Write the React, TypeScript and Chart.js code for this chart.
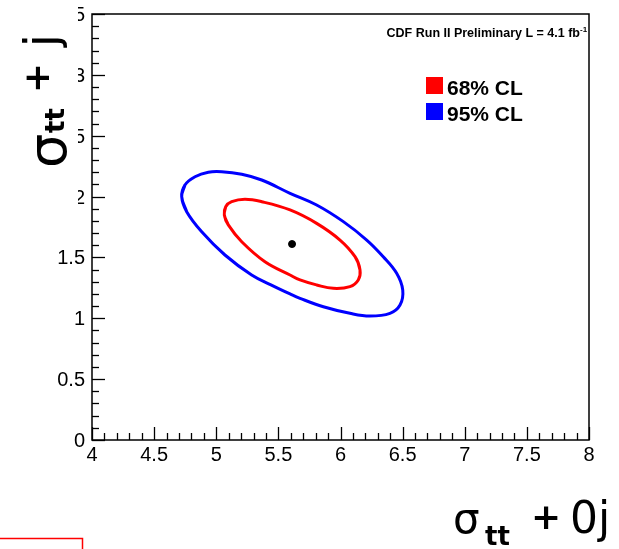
import React, { useEffect, useRef } from "react";
import { Chart, registerables } from "chart.js";

Chart.register(...registerables);

// ---- data ----
const xTickValues = [4, 4.5, 5, 5.5, 6, 6.5, 7, 7.5, 8];
const xTickLabels = ["4", "4.5", "5", "5.5", "6", "6.5", "7", "7.5", "8"];
const yTickValues = [0, 0.5, 1, 1.5, 2, 2.5, 3, 3.5];
const yTickLabels = ["0", "0.5", "1", "1.5", "2", "2.5", "3", "3.5"];

// 95% CL contour (closed)
const cl95X = [4.722, 4.762, 4.883, 5.070, 5.285, 5.440, 5.594, 5.674, 5.862, 6.076, 6.237, 6.398, 6.479, 6.501, 6.452, 6.344, 6.211, 6.023, 5.808, 5.594, 5.366, 5.205, 5.044, 4.936, 4.829, 4.748];
const cl95Y = [1.999, 1.876, 1.711, 1.520, 1.356, 1.275, 1.200, 1.164, 1.095, 1.041, 1.019, 1.041, 1.109, 1.232, 1.370, 1.506, 1.643, 1.794, 1.931, 2.027, 2.136, 2.183, 2.204, 2.200, 2.163, 2.095];

// 68% CL contour (closed)
const cl68X = [5.065, 5.097, 5.205, 5.392, 5.594, 5.674, 5.808, 5.942, 6.076, 6.143, 6.157, 6.117, 5.996, 5.808, 5.594, 5.366, 5.231, 5.124, 5.076];
const cl68Y = [1.849, 1.767, 1.629, 1.465, 1.356, 1.315, 1.274, 1.246, 1.260, 1.315, 1.397, 1.506, 1.643, 1.780, 1.890, 1.958, 1.978, 1.958, 1.917];

const bestFitX = [5.61];
const bestFitY = [1.61];

const legendLabels = ["68% CL", "95% CL"];
const legendColors = ["#ff0000", "#0000ff"];
const headerText = "CDF Run II Preliminary L = 4.1 fb";
const headerSup = "-1";

const xRange = [4, 8];
const yRange = [0, 3.5];

// closed curve: wrap around so the joint is smooth too
function closedPoints(xs: number[], ys: number[]) {
  const n = xs.length;
  const pts = xs.map((x, i) => ({ x, y: ys[i] }));
  return [pts[n - 1], ...pts, pts[0], pts[1]];
}

const drawPlugin = {
  id: "rootStyle",
  afterDraw(chart: any) {
    const ctx: CanvasRenderingContext2D = chart.ctx;
    const a = chart.chartArea;
    const xs = chart.scales.x;
    const ys = chart.scales.y;
    ctx.save();
    // frame
    ctx.strokeStyle = "#000";
    ctx.lineWidth = 1.5;
    ctx.strokeRect(a.left, a.top, a.right - a.left, a.bottom - a.top);
    // x ticks
    ctx.lineWidth = 1.3;
    const nx = Math.round((xRange[1] - xRange[0]) / 0.1);
    for (let i = 0; i <= nx; i++) {
      const v = xRange[0] + i * 0.1;
      const px = Math.round(xs.getPixelForValue(v)) + 0.5;
      const len = i % 5 === 0 ? 13 : 7;
      ctx.beginPath();
      ctx.moveTo(px, a.bottom);
      ctx.lineTo(px, a.bottom - len);
      ctx.stroke();
    }
    const ny = Math.round((yRange[1] - yRange[0]) / 0.1);
    for (let i = 0; i <= ny; i++) {
      const v = yRange[0] + i * 0.1;
      const py = Math.round(ys.getPixelForValue(v)) + 0.5;
      const len = i % 5 === 0 ? 13 : 7;
      ctx.beginPath();
      ctx.moveTo(a.left, py);
      ctx.lineTo(a.left + len, py);
      ctx.stroke();
    }
    // tick labels
    ctx.fillStyle = "#000";
    ctx.font = "20px 'Liberation Sans', Arial, sans-serif";
    ctx.textAlign = "center";
    ctx.textBaseline = "alphabetic";
    xTickValues.forEach((v, i) => {
      ctx.fillText(xTickLabels[i], xs.getPixelForValue(v), a.bottom + 21);
    });
    ctx.textAlign = "right";
    yTickValues.forEach((v, i) => {
      ctx.fillText(yTickLabels[i], a.left - 7, ys.getPixelForValue(v) + 7);
    });
    // mask (title pad covers upper labels)
    ctx.fillStyle = "#fff";
    ctx.fillRect(0, 0, 78, 210);

    // y title (rotated)
    ctx.fillStyle = "#000";
    ctx.save();
    ctx.translate(0, 168);
    ctx.rotate(-Math.PI / 2);
    ctx.textAlign = "left";
    ctx.font = "54px 'DejaVu Sans', sans-serif";
    ctx.fillText("σ", 0, 66);
    ctx.font = "bold 26px 'DejaVu Sans', sans-serif";
    ctx.fillText("tt", 35, 64);
    ctx.font = "bold 36px 'DejaVu Sans', sans-serif";
    ctx.fillText("+", 75, 49);
    ctx.font = "46px 'DejaVu Sans', sans-serif";
    ctx.fillText("j", 121, 57);
    ctx.restore();

    // x title
    ctx.textAlign = "left";
    ctx.font = "42px 'DejaVu Sans', sans-serif";
    ctx.fillText("σ", 453, 533);
    ctx.font = "bold 26px 'DejaVu Sans', sans-serif";
    ctx.fillText("tt", 485, 545);
    ctx.font = "bold 36px 'DejaVu Sans', sans-serif";
    ctx.fillText("+", 531, 529);
    ctx.font = "44px 'DejaVu Sans', sans-serif";
    ctx.fillText("0j", 570, 533);

    // header
    ctx.font = "bold 12.5px 'Liberation Sans', Arial, sans-serif";
    ctx.textAlign = "right";
    ctx.fillText(headerText, 580, 37);
    ctx.font = "bold 8px 'Liberation Sans', Arial, sans-serif";
    ctx.textAlign = "left";
    ctx.fillText(headerSup, 580, 32);

    // legend
    legendLabels.forEach((lab, i) => {
      const top = 77 + i * 26;
      ctx.fillStyle = legendColors[i];
      ctx.fillRect(426, top, 17, 17);
      ctx.fillStyle = "#000";
      ctx.font = "bold 21px 'Liberation Sans', Arial, sans-serif";
      ctx.fillText(lab, 447, top + 18);
    });

    // red box at bottom-left
    ctx.strokeStyle = "#ff0000";
    ctx.lineWidth = 1.5;
    ctx.beginPath();
    ctx.moveTo(0, 538.5);
    ctx.lineTo(82.5, 538.5);
    ctx.lineTo(82.5, 549);
    ctx.stroke();
    ctx.restore();
  },
};

export default function App() {
  const ref = useRef<HTMLCanvasElement | null>(null);
  useEffect(() => {
    if (!ref.current) return;
    const chart = new Chart(ref.current, {
      type: "scatter",
      data: {
        datasets: [
          {
            label: legendLabels[1],
            data: closedPoints(cl95X, cl95Y),
            showLine: true,
            borderColor: legendColors[1],
            borderWidth: 3,
            pointRadius: 0,
            tension: 0.4,
            fill: false,
          },
          {
            label: legendLabels[0],
            data: closedPoints(cl68X, cl68Y),
            showLine: true,
            borderColor: legendColors[0],
            borderWidth: 3,
            pointRadius: 0,
            tension: 0.4,
            fill: false,
          },
          {
            label: "best fit",
            data: bestFitX.map((x, i) => ({ x, y: bestFitY[i] })),
            showLine: false,
            backgroundColor: "#000",
            borderColor: "#000",
            pointRadius: 3.5,
          },
        ],
      },
      options: {
        responsive: false,
        animation: false,
        layout: { padding: { left: 92, right: 30, top: 14, bottom: 109 } },
        plugins: { legend: { display: false }, tooltip: { enabled: false } },
        scales: {
          x: { type: "linear", min: xRange[0], max: xRange[1], display: false },
          y: { type: "linear", min: yRange[0], max: yRange[1], display: false },
        },
      },
      plugins: [drawPlugin],
    });
    return () => chart.destroy();
  }, []);
  return (
    <div style={{ position: "fixed", left: 0, top: 0, width: 619, height: 549, background: "#fff" }}>
      <canvas ref={ref} width={619} height={549} />
    </div>
  );
}
